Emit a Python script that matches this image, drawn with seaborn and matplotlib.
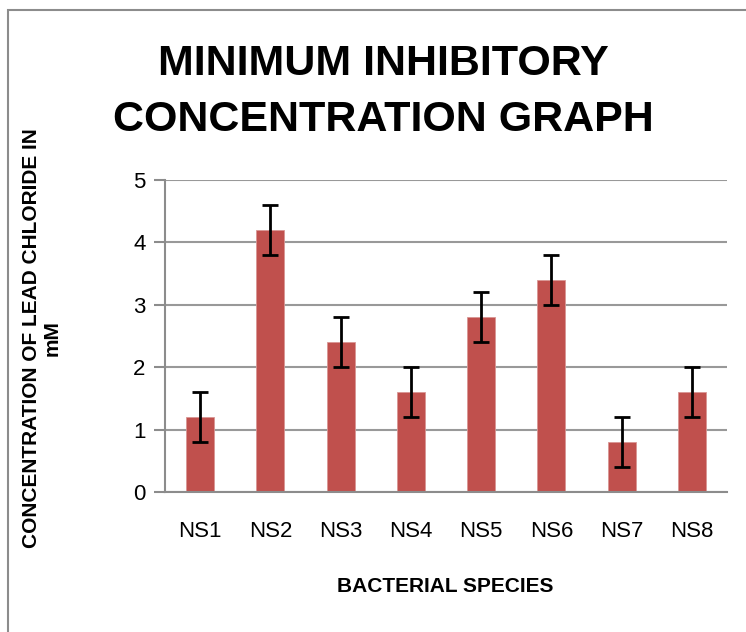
import matplotlib
matplotlib.use("Agg")
import matplotlib.pyplot as plt
import seaborn as sns
import pandas as pd
import numpy as np
from matplotlib.patches import Rectangle
from matplotlib import font_manager

species = ["NS1", "NS2", "NS3", "NS4", "NS5", "NS6", "NS7", "NS8"]
concentration = [1.2, 4.2, 2.4, 1.6, 2.8, 3.4, 0.8, 1.6]
error = [0.4, 0.4, 0.4, 0.4, 0.4, 0.4, 0.4, 0.4]
y_ticks = [0, 1, 2, 3, 4, 5]

sns.set_theme(style="white")
names = {f.name for f in font_manager.fontManager.ttflist}
fam = "Liberation Sans Narrow" if "Liberation Sans Narrow" in names else "Liberation Sans"
plt.rcParams["font.family"] = [fam, "DejaVu Sans"]
plt.rcParams["text.color"] = "black"
plt.rcParams["xtick.labelcolor"] = "black"
plt.rcParams["ytick.labelcolor"] = "black"

df = pd.DataFrame({"species": species, "conc": concentration})

fig = plt.figure(figsize=(7.46, 6.32), dpi=100)
ax = fig.add_axes([165/746, 1-492/632, (727-165)/746, (492-180)/632])

sns.barplot(data=df, x="species", y="conc", color="#C0504D", saturation=1,
            width=0.4, ax=ax, errorbar=None, edgecolor="#D99694", linewidth=0.6, zorder=2)
ax.errorbar(np.arange(len(species)), concentration, yerr=error, fmt="none",
            ecolor="black", elinewidth=2, capsize=6, capthick=2, zorder=3)

ax.set_ylim(0, 5)
ax.set_xlim(-0.5, len(species) - 0.5)
ax.set_yticks(y_ticks)
ax.yaxis.grid(True, color="#999999", linewidth=1.5, zorder=0)
ax.set_axisbelow(True)
for s in ["top", "right"]:
    ax.spines[s].set_visible(False)
for s in ["left", "bottom"]:
    ax.spines[s].set_color("#8c8c8c")
    ax.spines[s].set_linewidth(1.5)

ax.set_xticks(np.arange(-0.5, len(species)), minor=True)
ax.tick_params(axis="x", which="major", length=0, labelsize=16, pad=21, labelcolor="black")
ax.tick_params(axis="x", which="minor", length=8, width=1.5, color="#8c8c8c", direction="out")
ax.tick_params(axis="y", which="major", length=8, width=1.5, color="#8c8c8c",
               direction="out", labelsize=16, pad=6, labelcolor="black")
ax.tick_params(axis="x", bottom=True)
ax.tick_params(axis="y", left=True)

ax.set_xlabel("")
ax.set_ylabel("")
fig.text(445/746, 1-587/632, "BACTERIAL SPECIES", ha="center", va="center",
         fontsize=15, fontweight="bold", color="black")
fig.text(42/746, 1-338/632, "CONCENTRATION OF LEAD CHLORIDE IN\nmM", ha="center",
         va="center", rotation=90, fontsize=15, fontweight="bold", linespacing=1.1,
         color="black")
fig.text(383/746, 1-92/632, "MINIMUM INHIBITORY\nCONCENTRATION GRAPH", ha="center",
         va="center", fontsize=31, fontweight="bold", linespacing=1.5, color="black")

fig.patches.append(Rectangle((8/746, -0.1), 1.2, 1-10/632+0.1, transform=fig.transFigure,
                             fill=False, edgecolor="#8c8c8c", linewidth=1.5))

fig.savefig("out.png", dpi=100)
